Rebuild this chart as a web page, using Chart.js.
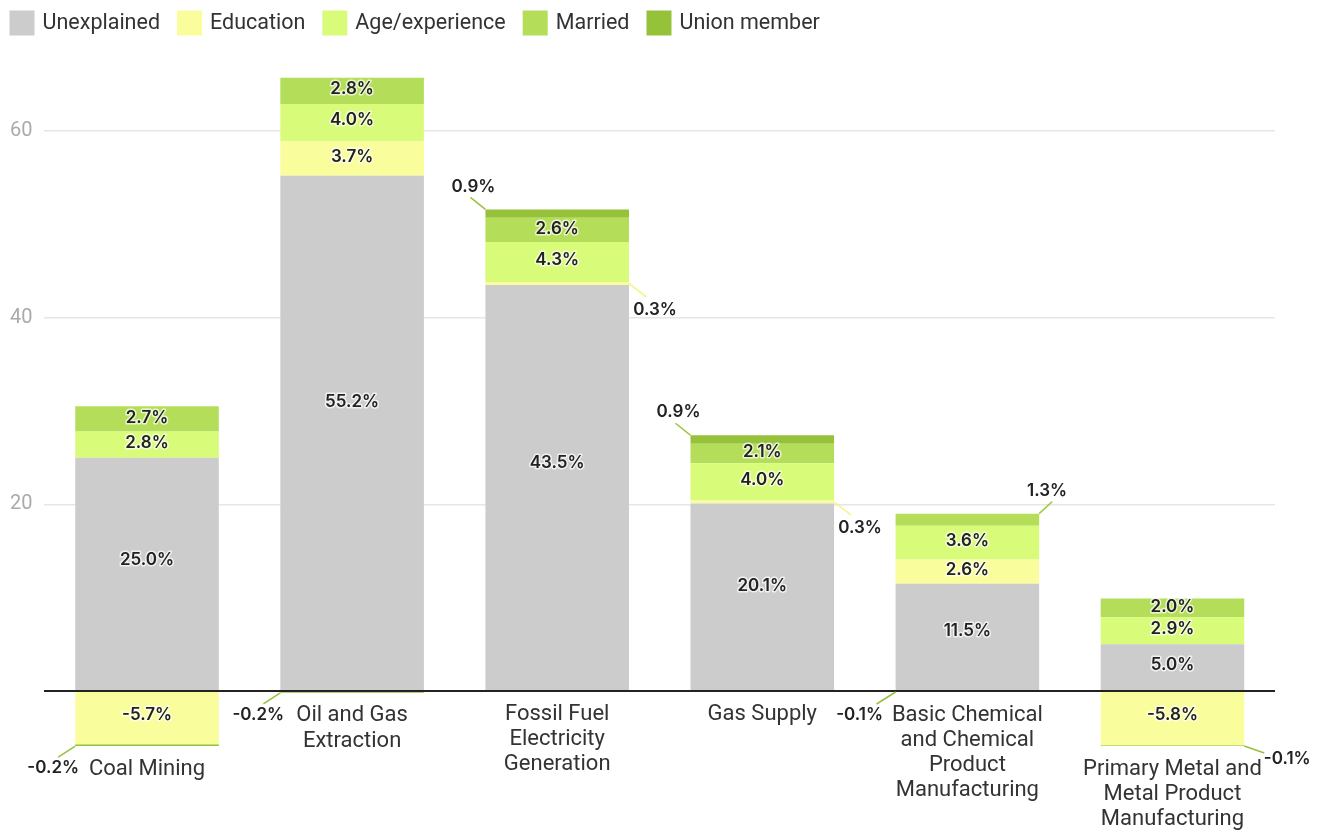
<!DOCTYPE html>
<html>
<head>
<meta charset="utf-8">
<script src="https://cdn.jsdelivr.net/npm/chart.js@4"></script>
<style>
  html, body { margin: 0; padding: 0; background: #fff; }
  #wrap { width: 1325px; height: 831px; position: relative; }
</style>
</head>
<body>
<div id="wrap"><canvas id="chart"></canvas></div>
<script>
const categories = [
  ['Coal Mining'],
  ['Oil and Gas', 'Extraction'],
  ['Fossil Fuel', 'Electricity', 'Generation'],
  ['Gas Supply'],
  ['Basic Chemical', 'and Chemical', 'Product', 'Manufacturing'],
  ['Primary Metal and', 'Metal Product', 'Manufacturing']
];
const seriesNames = ['Unexplained', 'Education', 'Age/experience', 'Married', 'Union member'];
const unexplained = [25.0, 55.2, 43.5, 20.1, 11.5, 5.0];
const education = [-5.7, 3.7, 0.3, 0.3, 2.6, -5.8];
const ageExperience = [2.8, 4.0, 4.3, 4.0, 3.6, 2.9];
const married = [2.7, 2.8, 2.6, 2.1, 1.3, 2.0];
const unionMember = [-0.2, -0.2, 0.9, 0.9, -0.1, -0.1];
const yTicks = [20, 40, 60];

const colors = ['#cccccc', '#f9fd9c', '#d8fc79', '#b4de59', '#96c23a'];
const lineColors = ['#bbbbbb', '#f1f57e', '#c8ec66', '#9dcc45', '#96c23a'];

// where small segments get their leader line: key "category,dataset"
const callouts = {
  '0,4': 'dl', '1,4': 'dl',
  '2,4': 'ul', '2,1': 'dr',
  '3,4': 'ul', '3,1': 'dr',
  '4,3': 'ur', '4,4': 'dlw',
  '5,4': 'r'
};
const calloutGeom = {
  ul: { side: 'left', edge: 'top', line: [-15, -12], label: [-12, -23] },
  ur: { side: 'right', edge: 'top', line: [13, -12], label: [8, -23] },
  dr: { side: 'right', edge: 'mid', line: [17, 13], label: [26, 26] },
  dl: { side: 'left', edge: 'bottom', line: [-17, 11], label: [-22, 22] },
  dlw: { side: 'left', edge: 'bottom', line: [-19, 12], label: [-36, 23] },
  r: { side: 'right', edge: 'bottom', line: [20, 7], label: [43, 13] }
};

const valueFont = '600 17px Inter';

function fmt(v) {
  return v.toFixed(1) + '%';
}

function drawText(ctx, text, x, y) {
  ctx.lineWidth = 3;
  ctx.strokeStyle = 'rgba(255,255,255,0.7)';
  ctx.strokeText(text, x, y);
  ctx.fillText(text, x, y);
}

const labelPlugin = {
  id: 'barLabels',
  afterDatasetsDraw(chart) {
    const ctx = chart.ctx;
    ctx.save();
    ctx.font = valueFont;
    ctx.fillStyle = '#222222';
    ctx.textAlign = 'center';
    ctx.textBaseline = 'middle';
    ctx.lineJoin = 'round';
    chart.data.datasets.forEach((ds, d) => {
      const meta = chart.getDatasetMeta(d);
      meta.data.forEach((el, i) => {
        const v = ds.data[i];
        const top = Math.min(el.y, el.base);
        const bottom = Math.max(el.y, el.base);
        const h = bottom - top;
        const key = i + ',' + d;
        if (callouts[key]) {
          const g = calloutGeom[callouts[key]];
          const cx = g.side === 'left' ? el.x - el.width / 2 : el.x + el.width / 2;
          const cy = g.edge === 'top' ? top : (g.edge === 'bottom' ? bottom : (top + bottom) / 2);
          ctx.beginPath();
          ctx.strokeStyle = lineColors[d];
          ctx.lineWidth = 1.5;
          ctx.moveTo(cx, cy);
          ctx.lineTo(cx + g.line[0], cy + g.line[1]);
          ctx.stroke();
          drawText(ctx, fmt(v), cx + g.label[0], cy + g.label[1]);
        } else if (Math.abs(v) >= 1.5) {
          drawText(ctx, fmt(v), el.x, top + h * 0.44);
        }
      });
    });

    // category names sit just under each bar
    ctx.font = '22px Roboto';
    ctx.fillStyle = '#333333';
    const base = chart.scales.y.getPixelForValue(0);
    categories.forEach((lines, i) => {
      let bottom = base;
      chart.data.datasets.forEach((ds, d) => {
        const el = chart.getDatasetMeta(d).data[i];
        bottom = Math.max(bottom, el.y, el.base);
      });
      lines.forEach((line, k) => {
        ctx.fillText(line, chart.getDatasetMeta(0).data[i].x, bottom + 23 + k * 25.3);
      });
    });

    // legend row, top left
    ctx.font = '21.5px Roboto';
    ctx.textAlign = 'left';
    let x = 9.5;
    chart.data.datasets.forEach(ds => {
      ctx.fillStyle = ds.backgroundColor;
      ctx.fillRect(x, 10.5, 25, 25);
      ctx.fillStyle = '#333333';
      ctx.fillText(ds.label, x + 33, 23.5);
      x += 33 + ctx.measureText(ds.label).width + 17;
    });
    ctx.restore();
  }
};

const seriesData = [unexplained, education, ageExperience, married, unionMember];

new Chart(document.getElementById('chart'), {
  type: 'bar',
  data: {
    labels: categories,
    datasets: seriesNames.map((name, d) => ({
      label: name,
      data: seriesData[d],
      backgroundColor: colors[d],
      borderWidth: 0,
      categoryPercentage: 1,
      barPercentage: 0.7
    }))
  },
  options: {
    responsive: true,
    maintainAspectRatio: false,
    animation: false,
    layout: { padding: { left: 10, right: 50, top: 75, bottom: 84 } },
    plugins: {
      tooltip: { enabled: false },
      legend: { display: false }
    },
    scales: {
      x: {
        stacked: true,
        display: false
      },
      y: {
        stacked: true,
        min: -6,
        max: 66,
        border: { display: false },
        grid: {
          drawTicks: false,
          color: c => c.tick.value === 0 ? '#222222' : '#e6e6e6',
          lineWidth: c => c.tick.value === 0 ? 2 : 1.5
        },
        afterBuildTicks: axis => {
          axis.ticks = [0].concat(yTicks).map(v => ({ value: v }));
        },
        ticks: {
          padding: 6,
          crossAlign: 'far',
          color: '#aaaaaa',
          font: { family: 'Roboto', size: 20 },
          callback: v => v === 0 ? '' : v
        }
      }
    }
  },
  plugins: [labelPlugin]
});
</script>
</body>
</html>
